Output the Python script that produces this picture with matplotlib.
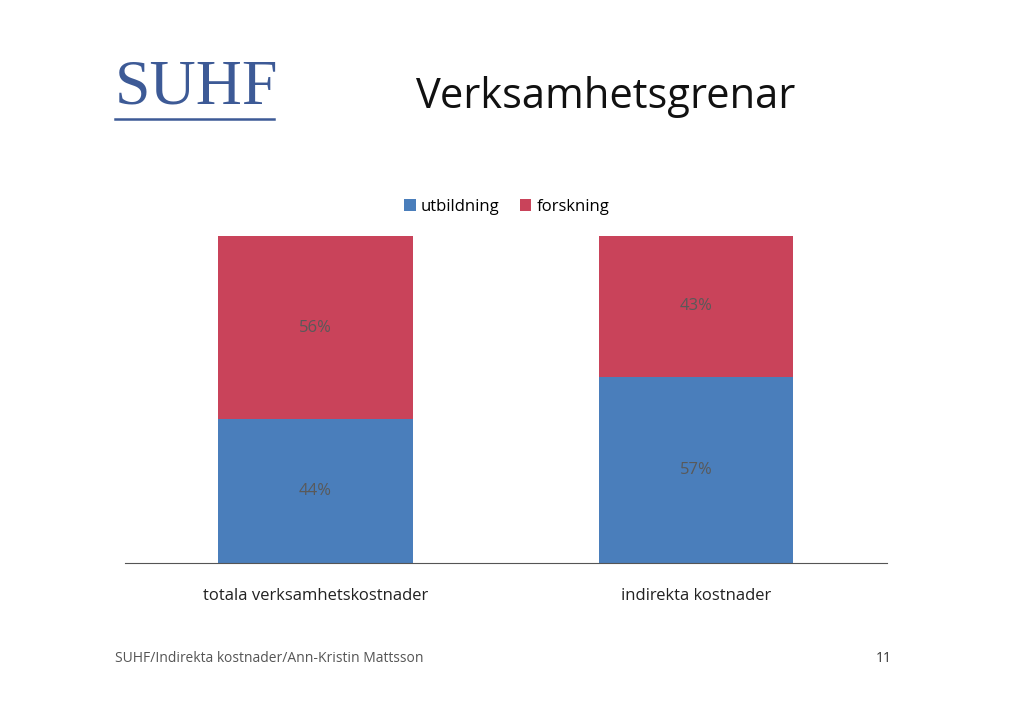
import matplotlib
matplotlib.use("Agg")
import matplotlib.pyplot as plt

categories = ["totala verksamhetskostnader", "indirekta kostnader"]
utbildning = [44, 57]
forskning = [56, 43]
series_names = ["utbildning", "forskning"]

blue = "#4a7ebb"
red = "#c9435a"
font = "Open Sans"

fig = plt.figure(figsize=(10.24, 7.26), dpi=100)
ax = fig.add_axes([0.122, 0.2245, 0.744, 0.4504])
x = list(range(len(categories)))
ut = [v / 100 for v in utbildning]
fo = [v / 100 for v in forskning]
b1 = ax.bar(x, ut, width=0.51, color=blue, label=series_names[0])
b2 = ax.bar(x, fo, bottom=ut, width=0.51, color=red, label=series_names[1])
for i in x:
    ax.text(i, ut[i] * 0.5, f"{utbildning[i]}%", ha="center", va="center",
            fontsize=12, color="#595959", family=font)
    ax.text(i, ut[i] + fo[i] * 0.5, f"{forskning[i]}%", ha="center", va="center",
            fontsize=12, color="#595959", family=font)
ax.set_xlim(-0.5, 1.5)
ax.set_ylim(0, 1)
for s in ["top", "right", "left"]:
    ax.spines[s].set_visible(False)
ax.spines["bottom"].set_color("#555555")
ax.set_yticks([])
ax.set_xticks(x)
ax.set_xticklabels(categories, fontsize=12, family=font, color="#222222")
ax.tick_params(axis="x", length=0, pad=18)

fig.legend(handles=[b1, b2], labels=series_names, loc="center", bbox_to_anchor=(0.495, 0.715),
           ncol=2, frameon=False, prop={"family": font, "size": 12},
           handlelength=0.7, handleheight=0.7, columnspacing=1.2, handletextpad=0.3)

fig.text(0.591, 0.866, "Verksamhetsgrenar", fontsize=30, family=font, ha="center", va="center",
         color="#111111")
fig.text(0.192, 0.878, "SUHF", fontsize=46, family="Liberation Serif", ha="center", va="center",
         color="#3d5a96")
fig.add_artist(plt.Line2D([0.112, 0.268], [0.836, 0.836], color="#3d5a96", lw=1.8))
fig.text(0.112, 0.093, "SUHF/Indirekta kostnader/Ann-Kristin Mattsson", fontsize=10, family=font,
         color="#555555", va="center")
fig.text(0.871, 0.093, "11", fontsize=10, family=font, color="#333333", va="center", ha="right")
fig.savefig("out.png", dpi=100)
